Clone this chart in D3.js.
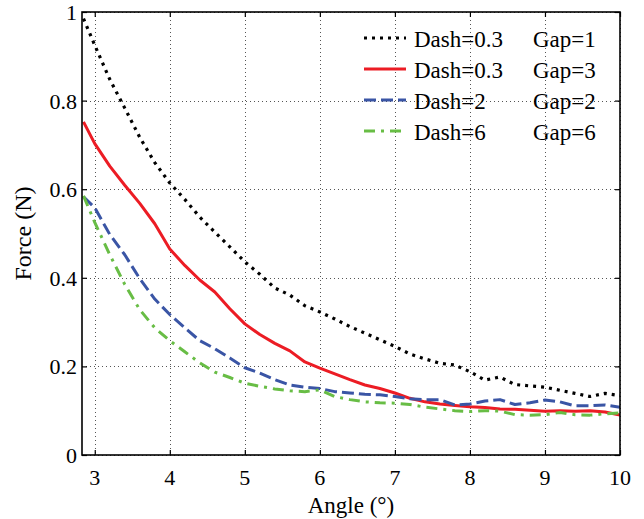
<!DOCTYPE html>
<html>
<head>
<meta charset="utf-8">
<script src="https://cdn.jsdelivr.net/npm/d3@7"></script>
<style>
  html, body { margin: 0; padding: 0; background: #fff; }
  svg { display: block; }
</style>
</head>
<body>
<svg id="chart" width="644" height="519"></svg>
<script>
// ---- data ----
const angles = [2.85, 3.0, 3.2, 3.4, 3.6, 3.8, 4.0, 4.2, 4.4, 4.6, 4.8, 5.0, 5.2, 5.4, 5.6, 5.8, 6.0,
  6.2, 6.4, 6.6, 6.8, 7.0, 7.2, 7.4, 7.6, 7.8, 8.0, 8.2, 8.4, 8.6, 8.8, 9.0, 9.2, 9.4, 9.6, 9.8, 10.0];

const forceDash03Gap1 = [0.985, 0.925, 0.848, 0.783, 0.717, 0.660, 0.614, 0.577, 0.537, 0.503, 0.470, 0.436,
  0.408, 0.377, 0.361, 0.337, 0.323, 0.307, 0.290, 0.275, 0.260, 0.245, 0.228, 0.217, 0.207, 0.203, 0.188,
  0.169, 0.176, 0.159, 0.156, 0.153, 0.146, 0.139, 0.132, 0.139, 0.134];

const forceDash03Gap3 = [0.752, 0.703, 0.652, 0.609, 0.568, 0.522, 0.465, 0.428, 0.395, 0.368, 0.330, 0.296,
  0.272, 0.252, 0.235, 0.210, 0.196, 0.183, 0.170, 0.158, 0.150, 0.140, 0.128, 0.120, 0.115, 0.112, 0.109,
  0.107, 0.104, 0.103, 0.101, 0.099, 0.100, 0.099, 0.100, 0.097, 0.090];

const forceDash2Gap2 = [0.583, 0.558, 0.498, 0.452, 0.398, 0.352, 0.317, 0.287, 0.258, 0.240, 0.219, 0.197,
  0.185, 0.170, 0.158, 0.153, 0.150, 0.143, 0.140, 0.137, 0.136, 0.132, 0.127, 0.125, 0.125, 0.113, 0.115,
  0.122, 0.125, 0.114, 0.118, 0.124, 0.120, 0.111, 0.111, 0.113, 0.108];

const forceDash6Gap6 = [0.585, 0.525, 0.452, 0.385, 0.328, 0.287, 0.258, 0.233, 0.208, 0.187, 0.175, 0.162,
  0.155, 0.149, 0.145, 0.143, 0.147, 0.132, 0.125, 0.120, 0.118, 0.117, 0.114, 0.108, 0.104, 0.100, 0.098,
  0.100, 0.099, 0.091, 0.090, 0.091, 0.096, 0.091, 0.090, 0.093, 0.095];

const legendDash = ["Dash=0.3", "Dash=0.3", "Dash=2", "Dash=6"];
const legendGap = ["Gap=1", "Gap=3", "Gap=2", "Gap=6"];

const xTicks = [3, 4, 5, 6, 7, 8, 9, 10];
const yTicks = [0, 0.2, 0.4, 0.6, 0.8, 1];
const yTickLabels = ["0", "0.2", "0.4", "0.6", "0.8", "1"];

// ---- styles ----
const FONT = "'Liberation Serif', 'Times New Roman', Times, 'DejaVu Serif', serif";
const styles = [
  { color: "#000000", dash: "3,5", width: 3.2 },
  { color: "#ec1c24", dash: null, width: 3 },
  { color: "#3a55a5", dash: "12,5", width: 3 },
  { color: "#68bd45", dash: "11,6,3,6", width: 3 }
];
const seriesValues = [forceDash03Gap1, forceDash03Gap3, forceDash2Gap2, forceDash6Gap6];

// ---- layout ----
const pL = 82, pR = 620, pT = 12, pB = 455;
const svg = d3.select("#chart").attr("font-family", FONT);

const x = d3.scaleLinear().domain([2.83, 10]).range([pL, pR]);
const y = d3.scaleLinear().domain([0, 1]).range([pB, pT]);

// grid
const grid = svg.append("g").attr("stroke", "#555").attr("stroke-width", 1).attr("stroke-dasharray", "1,3");
grid.selectAll("line.v").data(xTicks).enter().append("line")
  .attr("x1", d => Math.round(x(d)) + 0.5).attr("x2", d => Math.round(x(d)) + 0.5)
  .attr("y1", pT).attr("y2", pB);
grid.selectAll("line.h").data(yTicks).enter().append("line")
  .attr("y1", d => Math.round(y(d)) + 0.5).attr("y2", d => Math.round(y(d)) + 0.5)
  .attr("x1", pL).attr("x2", pR);

// clip
svg.append("clipPath").attr("id", "clip").append("rect")
  .attr("x", pL).attr("y", pT - 4).attr("width", pR - pL).attr("height", pB - pT + 4);

// lines
const line = d3.line().x((d, i) => x(angles[i])).y(d => y(d));
const lines = svg.append("g").attr("clip-path", "url(#clip)");
seriesValues.forEach((vals, k) => {
  const s = styles[k];
  lines.append("path").datum(vals)
    .attr("d", line)
    .attr("fill", "none")
    .attr("stroke", s.color)
    .attr("stroke-width", s.width)
    .attr("stroke-linejoin", "round")
    .attr("stroke-dasharray", s.dash);
});

// axes (ticks inside, box)
const tickLen = 5;
const axBottom = d3.axisBottom(x).tickValues(xTicks).tickSize(-tickLen).tickFormat("");
const axTop = d3.axisTop(x).tickValues(xTicks).tickSize(-tickLen).tickFormat("");
const axLeft = d3.axisLeft(y).tickValues(yTicks).tickSize(-tickLen).tickFormat("");
const axRight = d3.axisRight(y).tickValues(yTicks).tickSize(-tickLen).tickFormat("");

function styleAxis(g) {
  g.select(".domain").remove();
  g.selectAll(".tick line").attr("stroke", "#000").attr("stroke-width", 1.2);
}
svg.append("g").attr("transform", `translate(0,${pB})`).call(axBottom).call(styleAxis);
svg.append("g").attr("transform", `translate(0,${pT})`).call(axTop).call(styleAxis);
svg.append("g").attr("transform", `translate(${pL},0)`).call(axLeft).call(styleAxis);
svg.append("g").attr("transform", `translate(${pR},0)`).call(axRight).call(styleAxis);

svg.append("rect").attr("x", pL).attr("y", pT).attr("width", pR - pL).attr("height", pB - pT)
  .attr("fill", "none").attr("stroke", "#000").attr("stroke-width", 1.6);

// tick labels
svg.append("g").selectAll("text").data(xTicks).enter().append("text")
  .attr("font-family", FONT)
  .attr("x", d => x(d)).attr("y", 485)
  .attr("text-anchor", "middle").attr("font-size", 22)
  .text(d => d);
svg.append("g").selectAll("text").data(yTicks).enter().append("text")
  .attr("font-family", FONT)
  .attr("x", 77).attr("y", d => y(d) + 8)
  .attr("text-anchor", "end").attr("font-size", 22)
  .text((d, i) => yTickLabels[i]);

// axis titles
svg.append("text").attr("font-family", FONT).attr("x", (pL + pR) / 2).attr("y", 513)
  .attr("text-anchor", "middle").attr("font-size", 23).text("Angle (°)");
svg.append("text").attr("font-family", FONT).attr("transform", `translate(31,${(pT + pB) / 2}) rotate(-90)`)
  .attr("text-anchor", "middle").attr("font-size", 24).text("Force (N)");

// legend
const legendRows = [38, 69, 100, 131];
const lg = svg.append("g");
legendRows.forEach((ly, k) => {
  const s = styles[k];
  lg.append("line").attr("x1", 364).attr("x2", 406).attr("y1", ly).attr("y2", ly)
    .attr("stroke", s.color).attr("stroke-width", s.width).attr("stroke-dasharray", s.dash);
  lg.append("text").attr("font-family", FONT).attr("x", 414).attr("y", ly + 9).attr("font-size", 23).text(legendDash[k]);
  lg.append("text").attr("font-family", FONT).attr("x", 533).attr("y", ly + 9).attr("font-size", 23).text(legendGap[k]);
});
</script>
</body>
</html>
